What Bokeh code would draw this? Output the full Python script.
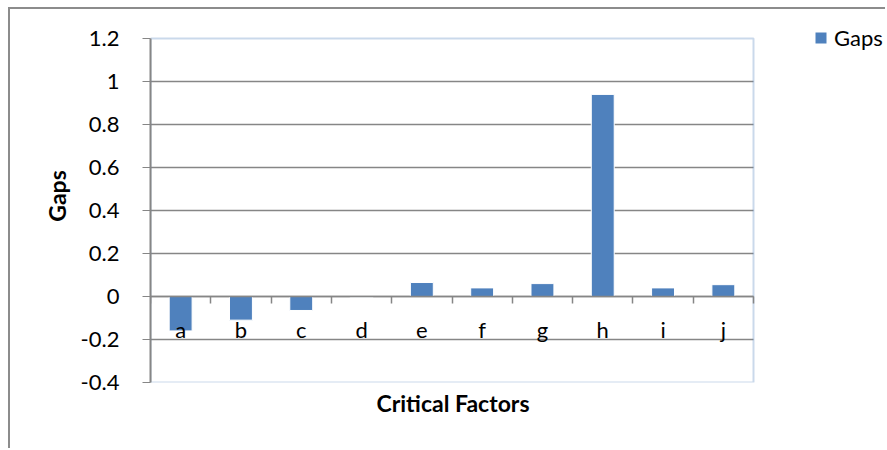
from bokeh.plotting import figure
from bokeh.models import (ColumnDataSource, LinearAxis, FixedTicker, Legend, LegendItem,
                          Range1d, BoxAnnotation, Title)
from bokeh.embed import file_html
from bokeh.resources import INLINE

categories = ["a", "b", "c", "d", "e", "f", "g", "h", "i", "j"]
gaps = [-0.16, -0.11, -0.065, -0.004, 0.065, 0.04, 0.06, 0.94, 0.04, 0.055]
y_ticks = [-0.4, -0.2, 0, 0.2, 0.4, 0.6, 0.8, 1, 1.2]
y_tick_labels = ["-0.4", "-0.2", "0", "0.2", "0.4", "0.6", "0.8", "1", "1.2"]

FONT = "Lato"
BLUE = "#4F81BD"
GRAY = "#868686"

# layout (pixels inside the figure)
W, H = 877, 441
PLOT_L, PLOT_R, PLOT_T, PLOT_B = 140, 743, 29, 373
n = len(categories)
y_lo, y_hi = y_ticks[0], y_ticks[-1]
# the frame spans to the right/top edges so the legend can sit beside the plot area
x_end = n * (W - PLOT_L) / (PLOT_R - PLOT_L)
y_end = y_lo + (y_hi - y_lo) * PLOT_B / (PLOT_B - PLOT_T)

pos = [i + 0.5 for i in range(n)]
bounds = list(range(n + 1))
src = ColumnDataSource(dict(x=pos, top=gaps, cat=categories))

p = figure(width=W, height=H, output_backend="svg", toolbar_location=None,
           x_range=Range1d(0, x_end), y_range=Range1d(y_lo, y_end),
           x_axis_location=None, y_axis_location=None,
           min_border_left=PLOT_L, min_border_right=0, min_border_top=0,
           min_border_bottom=H - PLOT_B)
p.styles = {"margin-left": "8px", "margin-top": "7px",
            "border-left": "2px solid #8c8c8c", "border-top": "2px solid #8c8c8c"}
p.background_fill_color = "white"
p.border_fill_color = "white"
p.outline_line_color = None

# plot-area border
p.add_layout(BoxAnnotation(left=0, right=n, bottom=y_lo, top=y_hi, level="underlay",
                           fill_alpha=0, line_color=BLUE, line_width=2))

# y axis
yax = LinearAxis(ticker=FixedTicker(ticks=y_ticks), bounds=(y_lo, y_hi),
                 major_label_overrides={t: l for t, l in zip(y_ticks, y_tick_labels)})
yax.axis_label = "Gaps"
yax.axis_label_text_font = FONT
yax.axis_label_text_font_style = "bold"
yax.axis_label_text_font_size = "23px"
yax.axis_label_text_color = "black"
yax.axis_label_standoff = 7
yax.major_label_text_font = FONT
yax.major_label_text_font_size = "22px"
yax.major_label_text_color = "black"
yax.major_label_standoff = 23
yax.major_tick_out = 8
yax.major_tick_in = 0
yax.minor_tick_line_color = None
yax.major_tick_line_color = GRAY
yax.axis_line_color = GRAY
yax.axis_line_width = 2
p.add_layout(yax, "left")

p.ygrid.ticker = FixedTicker(ticks=y_ticks[1:-1])
p.ygrid.cross_bounds = (0, n)
p.ygrid.grid_line_color = GRAY
p.ygrid.grid_line_width = 1.5
p.xgrid.grid_line_color = None

# category axis at zero: labels at centres, tick marks at category boundaries
lab_ax = LinearAxis(ticker=FixedTicker(ticks=pos, minor_ticks=bounds), fixed_location=0,
                    bounds=(0, n),
                    major_label_overrides={x: c for x, c in zip(pos, categories)})
lab_ax.major_label_text_font = FONT
lab_ax.major_label_text_font_size = "22px"
lab_ax.major_label_text_color = "black"
lab_ax.major_label_standoff = 12
lab_ax.major_tick_line_color = None
lab_ax.major_tick_out = 0
lab_ax.minor_tick_line_color = GRAY
lab_ax.minor_tick_line_width = 1.5
lab_ax.minor_tick_out = 7
lab_ax.minor_tick_in = 0
lab_ax.axis_line_color = GRAY
lab_ax.axis_line_width = 1.5
p.add_layout(lab_ax, "below")

# x axis title, centred under the plot area
x_title = Title(text="Critical Factors", align="left", offset=226, standoff=8,
                text_font=FONT, text_font_style="bold", text_font_size="23px",
                text_color="black")
p.add_layout(x_title, "below")

r = p.vbar(x="x", top="top", bottom=0, width=0.38, source=src,
           fill_color=BLUE, line_color="white", line_width=1)

legend = Legend(items=[LegendItem(label="Gaps", renderers=[r])],
                location=(663, 331), orientation="vertical")
legend.label_text_font = FONT
legend.label_text_font_size = "22px"
legend.label_text_color = "black"
legend.glyph_width = 15
legend.glyph_height = 15
legend.padding = 0
legend.margin = 0
legend.spacing = 0
legend.label_standoff = 6
legend.border_line_color = None
legend.background_fill_alpha = 0
p.add_layout(legend, "center")

open("out.html", "w").write(file_html(p, INLINE))
